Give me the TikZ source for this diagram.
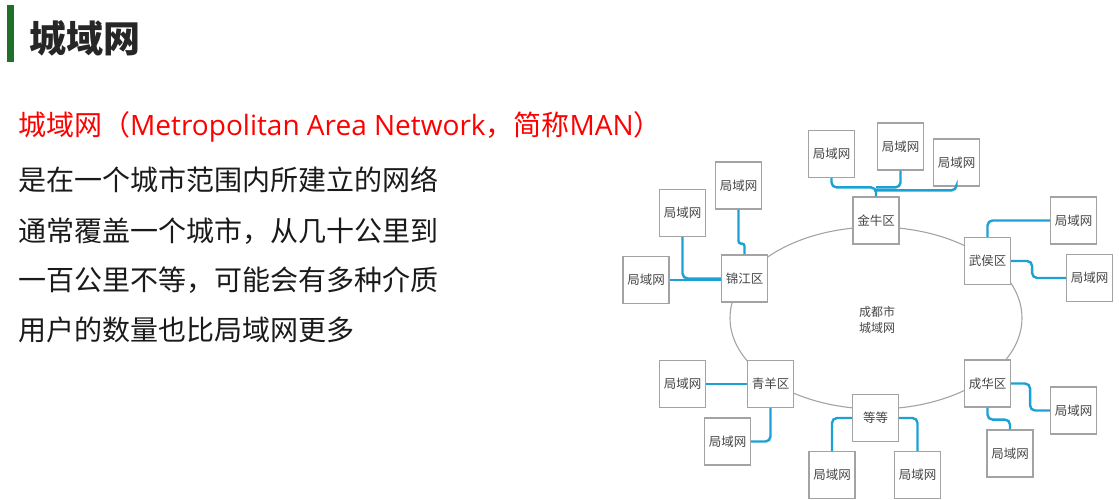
\documentclass[tikz,border=0pt]{standalone}
\usepackage{fontspec}
\setmainfont{Noto Sans CJK SC}
\newfontfamily\latinface{Open Sans}
\usetikzlibrary{calc}
\definecolor{barGreen}{RGB}{32,112,42}
\definecolor{titleInk}{RGB}{38,38,38}
\definecolor{bodyInk}{RGB}{26,26,26}
\definecolor{manRed}{RGB}{255,0,0}
\definecolor{boxGray}{RGB}{163,163,163}
\definecolor{labelGray}{RGB}{70,70,70}
\definecolor{linkBlue}{RGB}{27,161,212}
\begin{document}
\begin{tikzpicture}[x=1pt,y=-1pt,
  unit/.style={draw=boxGray, line width=1.2pt, fill=white, minimum width=46pt,
    minimum height=47pt, inner sep=0pt, text=labelGray,
    font=\fontsize{12.5}{15}\selectfont},
  link/.style={draw=linkBlue, line width=2.4pt, rounded corners=5pt},
  ring/.style={draw=boxGray, line width=1.1pt},
  bodyline/.style={anchor=west, inner sep=0pt, text=bodyInk,
    font=\fontsize{28}{28}\selectfont}]
\useasboundingbox (0,0) rectangle (1119,499);

% heading
\node[fill=barGreen, minimum width=7pt, minimum height=57pt, inner sep=0pt] (bar) at (10.5,33.5) {};
\node[anchor=west, inner sep=0pt, text=titleInk, font=\bfseries\fontsize{37}{37}\selectfont] (title) at (29,38) {城域网};

% description
\node[bodyline, text=manRed] (l0) at (18,127) {城域网（{\latinface Metropolitan Area Network}，简称{\latinface MAN}）};
\node[bodyline] (l1) at (18,180) {是在一个城市范围内所建立的网络};
\node[bodyline] (l2) at (18,231) {通常覆盖一个城市，从几十公里到};
\node[bodyline] (l3) at (18,280) {一百公里不等，可能会有多种介质};
\node[bodyline] (l4) at (18,330) {用户的数量也比局域网更多};

% metropolitan ring
\draw[ring] (876,318) ellipse [x radius=146pt, y radius=91pt];
\node[align=center, inner sep=0pt, text=labelGray, font=\fontsize{12}{16}\selectfont] (city) at (877,320) {成都市\\城域网};

% district nodes
\node[unit] (jn) at (876,220.5) {金牛区};
\node[unit] (jj) at (744.5,278.5) {锦江区};
\node[unit] (wh) at (987.5,261) {武侯区};
\node[unit] (qy) at (770.5,384) {青羊区};
\node[unit] (dd) at (875.5,418) {等等};
\node[unit] (ch) at (987.5,383.5) {成华区};

% local networks
\node[unit] (lanA) at (646,280) {局域网};
\node[unit] (lanB) at (682.5,213) {局域网};
\node[unit] (lanC) at (738.5,185.5) {局域网};
\node[unit] (lanD) at (831.5,154) {局域网};
\node[unit] (lanE) at (900.5,146.5) {局域网};
\node[unit] (lanF) at (956.5,162.5) {局域网};
\node[unit] (lanG) at (1073.5,220.5) {局域网};
\node[unit] (lanH) at (1089.5,278) {局域网};
\node[unit] (lanI) at (682.5,384) {局域网};
\node[unit] (lanJ) at (727.5,441.5) {局域网};
\node[unit] (lanK) at (832,475) {局域网};
\node[unit] (lanL) at (917.5,475) {局域网};
\node[unit] (lanM) at (1010,453.5) {局域网};
\node[unit] (lanN) at (1073.5,410.5) {局域网};

% links: 锦江区
\draw[link] (lanA.east) -- (lanA.east -| jj.west);
\draw[link] (lanB.south) |- (jj.west);
\draw[link, rounded corners=2.5pt] (lanC.south) -- ++(0,34) -| (jj.north);
% links: 金牛区
\coordinate (jnA) at ($(jn.north)+(0,-9)$);
\coordinate (jnB) at ($(jn.north)+(0,-6)$);
\draw[link] (lanD.south) |- (jnA) -- (jn.north);
\draw[link] (lanE.south) |- (jnA);
\draw[link] (lanF.south) |- (jnB);
% links: 武侯区
\draw[link] (wh.north) |- (lanG.west);
\draw[link] (wh.east) -- ++(21,0) |- (lanH.west);
% links: 青羊区
\draw[link] (lanI.east) -- (qy.west);
\draw[link] (qy.south) |- (lanJ.east);
% links: 等等
\draw[link] (dd.west) -| (lanK.north);
\draw[link] (dd.east) -| (lanL.north);
% links: 成华区
\draw[link] (ch.east) -- ++(19,0) |- (lanN.west);
\draw[link] (ch.south) -- ++(0,12) -| (lanM.north);
\end{tikzpicture}
\end{document}
